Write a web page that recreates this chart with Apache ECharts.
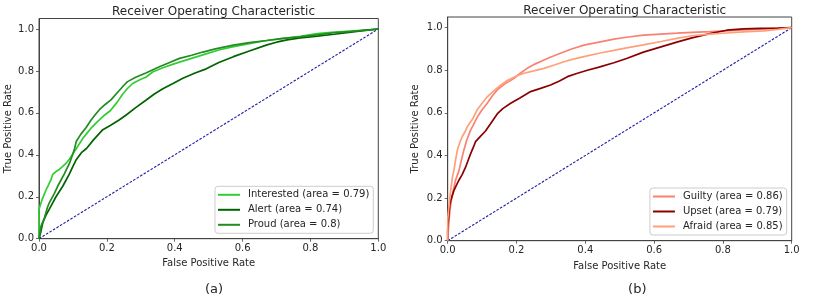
<!DOCTYPE html>
<html><head><meta charset="utf-8">
<script src="https://cdn.jsdelivr.net/npm/echarts@6/dist/echarts.min.js"></script>
<style>html,body{margin:0;padding:0;background:#fff}#c{width:830px;height:299px}</style>
</head><body><div id="c"></div>
<script>
const chartTitle = 'Receiver Operating Characteristic';
const xName = 'False Positive Rate';
const yName = 'True Positive Rate';
const captions = ['(a)', '(b)'];
const tickValues = [0, 0.2, 0.4, 0.6, 0.8, 1.0];
const diagonal = [[0, 0], [1, 1]];

const leftNames = ['Interested (area = 0.79)', 'Alert (area = 0.74)', 'Proud (area = 0.8)'];
const rightNames = ['Guilty (area = 0.86)', 'Upset (area = 0.79)', 'Afraid (area = 0.85)'];

const interested = [[0,0],[0,0.14],[0.01,0.19],[0.02,0.23],[0.026,0.25],[0.035,0.28],[0.04,0.305],[0.05,0.32],[0.06,0.33],[0.07,0.345],[0.08,0.36],[0.09,0.38],[0.1,0.405],[0.11,0.43],[0.12,0.455],[0.13,0.48],[0.14,0.5],[0.155,0.53],[0.17,0.555],[0.19,0.585],[0.21,0.61],[0.23,0.65],[0.247,0.69],[0.26,0.715],[0.276,0.74],[0.3,0.76],[0.315,0.77],[0.335,0.795],[0.365,0.815],[0.4,0.835],[0.44,0.855],[0.49,0.88],[0.53,0.9],[0.57,0.915],[0.62,0.93],[0.67,0.945],[0.72,0.955],[0.77,0.965],[0.82,0.978],[0.87,0.985],[0.92,0.99],[0.96,0.995],[1,1]];
const alert_ = [[0,0],[0.005,0.03],[0.011,0.075],[0.02,0.11],[0.03,0.14],[0.04,0.17],[0.05,0.2],[0.06,0.225],[0.07,0.25],[0.08,0.28],[0.09,0.31],[0.1,0.345],[0.109,0.375],[0.125,0.41],[0.14,0.43],[0.16,0.47],[0.188,0.52],[0.21,0.54],[0.235,0.565],[0.257,0.59],[0.285,0.625],[0.315,0.66],[0.34,0.69],[0.365,0.715],[0.395,0.74],[0.424,0.765],[0.46,0.79],[0.493,0.81],[0.53,0.84],[0.573,0.868],[0.62,0.895],[0.672,0.924],[0.7,0.937],[0.731,0.948],[0.77,0.958],[0.82,0.966],[0.87,0.975],[0.92,0.985],[0.96,0.993],[1,1]];
const proud = [[0,0],[0.003,0.03],[0.006,0.06],[0.016,0.1],[0.025,0.15],[0.03,0.17],[0.045,0.215],[0.055,0.25],[0.065,0.28],[0.075,0.31],[0.09,0.36],[0.1,0.405],[0.105,0.43],[0.11,0.465],[0.124,0.5],[0.139,0.53],[0.153,0.565],[0.165,0.59],[0.178,0.615],[0.195,0.64],[0.212,0.662],[0.23,0.695],[0.251,0.733],[0.261,0.749],[0.285,0.77],[0.315,0.79],[0.355,0.82],[0.385,0.84],[0.414,0.86],[0.45,0.875],[0.483,0.89],[0.52,0.905],[0.573,0.923],[0.62,0.935],[0.672,0.945],[0.72,0.955],[0.77,0.963],[0.82,0.972],[0.868,0.982],[0.93,0.99],[0.97,0.995],[1,1]];

const guilty = [[0,0],[0.002,0.05],[0.004,0.1],[0.008,0.16],[0.013,0.21],[0.018,0.25],[0.023,0.285],[0.033,0.33],[0.04,0.38],[0.047,0.425],[0.055,0.47],[0.062,0.5],[0.067,0.52],[0.075,0.545],[0.086,0.58],[0.1,0.615],[0.115,0.645],[0.13,0.68],[0.144,0.708],[0.165,0.735],[0.193,0.762],[0.21,0.785],[0.231,0.809],[0.255,0.83],[0.28,0.848],[0.3,0.862],[0.328,0.88],[0.36,0.9],[0.396,0.918],[0.44,0.932],[0.483,0.946],[0.52,0.955],[0.569,0.965],[0.62,0.97],[0.666,0.974],[0.71,0.978],[0.762,0.981],[0.81,0.985],[0.859,0.989],[0.92,0.994],[0.96,0.997],[1,1]];
const upset = [[0,0],[0,0.05],[0.003,0.12],[0.006,0.17],[0.009,0.19],[0.012,0.205],[0.018,0.235],[0.025,0.26],[0.033,0.285],[0.042,0.31],[0.052,0.345],[0.06,0.38],[0.067,0.41],[0.075,0.44],[0.081,0.465],[0.095,0.49],[0.11,0.515],[0.125,0.55],[0.144,0.595],[0.16,0.62],[0.183,0.645],[0.21,0.67],[0.241,0.7],[0.27,0.715],[0.299,0.731],[0.325,0.75],[0.348,0.77],[0.375,0.785],[0.406,0.8],[0.44,0.815],[0.483,0.835],[0.52,0.855],[0.569,0.885],[0.62,0.91],[0.666,0.932],[0.71,0.952],[0.762,0.972],[0.811,0.988],[0.86,0.994],[0.91,0.997],[0.96,0.998],[1,1]];
const afraid = [[0,0],[0,0.1],[0.003,0.15],[0.006,0.2],[0.009,0.24],[0.013,0.29],[0.018,0.33],[0.023,0.38],[0.028,0.425],[0.035,0.46],[0.042,0.488],[0.05,0.51],[0.057,0.535],[0.065,0.555],[0.072,0.57],[0.086,0.615],[0.1,0.645],[0.112,0.67],[0.125,0.69],[0.15,0.725],[0.173,0.752],[0.2,0.773],[0.222,0.786],[0.25,0.797],[0.28,0.809],[0.31,0.825],[0.338,0.84],[0.365,0.852],[0.396,0.864],[0.44,0.88],[0.483,0.893],[0.52,0.905],[0.569,0.919],[0.62,0.935],[0.666,0.95],[0.71,0.962],[0.762,0.97],[0.81,0.975],[0.859,0.98],[0.92,0.985],[0.96,0.992],[1,1]];

const leftColors = ['#32CD32', '#006400', '#228B22'];
const rightColors = ['#FA8072', '#8B0000', '#FFA07A'];

const FONT = 'DejaVu Sans';
const TXT = '#262626';
const SPINE = '#444';

function xAxis(gi) {
  return {
    gridIndex: gi, type: 'value', min: 0, max: 1,
    name: xName, nameLocation: 'middle', nameGap: gi === 0 ? 19 : 21,
    nameTextStyle: { fontFamily: FONT, fontSize: 10, color: TXT },
    axisLine: { show: true, lineStyle: { color: SPINE, width: 1 } },
    axisTick: { show: true, length: 3, customValues: tickValues, lineStyle: { color: SPINE, width: 0.8 } },
    axisLabel: { customValues: tickValues, margin: 5, fontFamily: FONT, fontSize: 10, color: TXT, formatter: v => v.toFixed(1) },
    splitLine: { show: false }
  };
}
function yAxis(gi) {
  return {
    gridIndex: gi, type: 'value', min: 0, max: 1.05,
    name: yName, nameLocation: 'middle', nameGap: gi === 0 ? 26 : 27,
    nameTextStyle: { fontFamily: FONT, fontSize: 10, color: TXT },
    axisLine: { show: true, lineStyle: { color: SPINE, width: 1 } },
    axisTick: { show: true, length: 3, customValues: tickValues, lineStyle: { color: SPINE, width: 0.8 } },
    axisLabel: { customValues: tickValues, margin: 5, fontFamily: FONT, fontSize: 10, color: TXT, formatter: v => v.toFixed(1) },
    splitLine: { show: false }
  };
}
function roc(name, data, color, gi) {
  return {
    type: 'line', name, data, xAxisIndex: gi, yAxisIndex: gi,
    showSymbol: false, symbol: 'none', smooth: false,
    lineStyle: { color, width: 1.7 }, itemStyle: { color },
    animation: false, z: 3
  };
}
function diag(gi) {
  return {
    type: 'line', data: diagonal, xAxisIndex: gi, yAxisIndex: gi,
    showSymbol: false, symbol: 'none',
    lineStyle: { color: '#1c1ca0', width: 1.1, type: [2.6, 1.5] },
    animation: false, silent: true, z: 2
  };
}
function legend(names, right, bottom) {
  return {
    data: names, orient: 'vertical', right, bottom,
    icon: 'rect', itemWidth: 22, itemHeight: 2, itemGap: 4,
    padding: [3, 4, 3, 3],
    backgroundColor: 'rgba(255,255,255,0.8)', borderColor: '#cccccc', borderWidth: 1, borderRadius: 3,
    textStyle: { fontFamily: FONT, fontSize: 10, color: TXT, lineHeight: 11, padding: [0, 0, 0, 3] },
    selectedMode: false
  };
}

const chart = echarts.init(document.getElementById('c'), null, { renderer: 'canvas' });
chart.setOption({
  animation: false,
  backgroundColor: '#fff',
  title: [
    { text: chartTitle, left: 208.5, top: 1, textAlign: 'center', textStyle: { fontFamily: FONT, fontSize: 12, fontWeight: 'normal', color: TXT } },
    { text: chartTitle, left: 619.7, top: 0, textAlign: 'center', textStyle: { fontFamily: FONT, fontSize: 12, fontWeight: 'normal', color: TXT } },
    { text: captions[0], left: 209, top: 278, textAlign: 'center', textStyle: { fontFamily: FONT, fontSize: 13, fontWeight: 'normal', color: TXT } },
    { text: captions[1], left: 632.3, top: 278, textAlign: 'center', textStyle: { fontFamily: FONT, fontSize: 13, fontWeight: 'normal', color: TXT } }
  ],
  grid: [
    { left: 39, right: 451.7, top: 18.5, bottom: 60.3, show: true, borderColor: SPINE, borderWidth: 1, backgroundColor: 'transparent' },
    { left: 447.7, right: 38.3, top: 17, bottom: 58.3, show: true, borderColor: SPINE, borderWidth: 1, backgroundColor: 'transparent' }
  ],
  xAxis: [xAxis(0), xAxis(1)],
  yAxis: [yAxis(0), yAxis(1)],
  legend: [legend(leftNames, 456.7, 65.7), legend(rightNames, 43.3, 64)],
  series: [
    roc(leftNames[0], interested, leftColors[0], 0),
    roc(leftNames[1], alert_, leftColors[1], 0),
    roc(leftNames[2], proud, leftColors[2], 0),
    diag(0),
    roc(rightNames[0], guilty, rightColors[0], 1),
    roc(rightNames[1], upset, rightColors[1], 1),
    roc(rightNames[2], afraid, rightColors[2], 1),
    diag(1)
  ]
});
</script></body></html>
